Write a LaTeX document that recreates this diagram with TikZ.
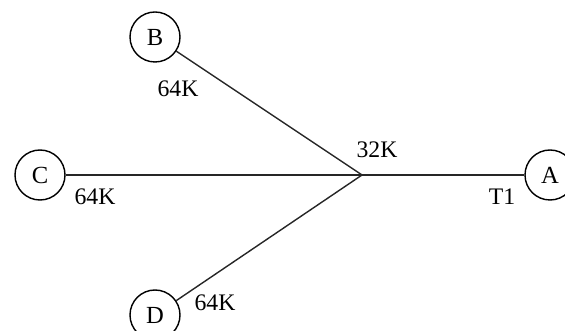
\documentclass[tikz,border=0pt]{standalone}
\usepackage{fontspec}
\setmainfont{Liberation Serif}
\usepackage{tikz}
\colorlet{linkgray}{black!85}

\begin{document}
\begin{tikzpicture}[site/.style={draw,circle,thick,minimum size=1cm,inner sep=0pt,font=\fontsize{14}{16}\selectfont},
    rate/.style={font=\fontsize{13.5}{16}\selectfont}]
      \useasboundingbox (0,0) rectangle (11.3,6.62);

      \node[site] (b) at (3.1,5.88) {B};
      \node[site] (c) at (0.8,3.12) {C};
      \node[site] (d) at (3.1,0.32) {D};
      \node[site] (a) at (11.0,3.12) {A};
      \coordinate (hub) at (7.24,3.12);

      \draw[thick,linkgray] (b) -- (hub);
      \draw[thick,linkgray] (c) -- (hub);
      \draw[thick,linkgray] (d) -- (hub);
      \draw[thick,linkgray] (hub) -- (a);

      \node[rate] (rb) at (3.56,4.84) {64K};
      \node[rate] (rc) at (1.9,2.68) {64K};
      \node[rate] (rd) at (4.3,0.56) {64K};
      \node[rate] (rhub) at (7.54,3.62) {32K};
      \node[rate] (ra) at (10.04,2.68) {T1};

    \end{tikzpicture}
\end{document}
